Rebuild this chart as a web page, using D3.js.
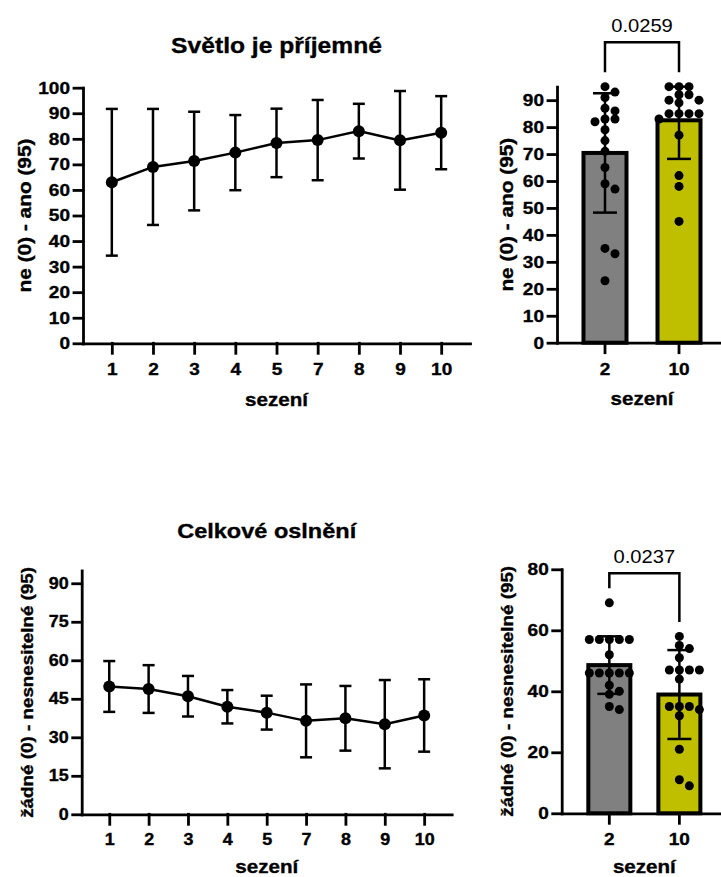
<!DOCTYPE html>
<html>
<head>
<meta charset="utf-8">
<script src="https://cdn.jsdelivr.net/npm/d3@7"></script>
<style>
  body { margin: 0; background: #fff; }
  svg text { font-family: "Liberation Sans", Arial, sans-serif; fill: #000; }
</style>
</head>
<body>
<svg id="chart" width="721" height="877"></svg>
<script>
// session labels for the line charts
const sessions = ["1", "2", "3", "4", "5", "7", "8", "9", "10"];

// "Světlo je příjemné" - mean and SD per session
const pleasantMean = [63, 69, 71.3, 74.6, 78.4, 79.5, 83, 79.4, 82.4];
const pleasantSD = [28.7, 22.7, 19.3, 14.7, 13.4, 15.7, 10.7, 19.3, 14.3];

// "Celkové oslnění" - mean and SD per session
const glareMean = [49.8, 48.8, 46, 41.9, 39.6, 36.4, 37.4, 35.1, 38.5];
const glareSD = [9.9, 9.3, 7.9, 6.5, 6.6, 14.2, 12.6, 17.2, 14.1];

// bar charts: individual answers, session 2 vs session 10
const barGroups = ["2", "10"];
const pleasantS2 = [95, 93, 91, 87, 86, 83, 83, 82, 79, 75, 71, 65, 59, 57, 35, 33, 23];
const pleasantS10 = [95, 95, 95, 92, 92, 90, 90, 89, 85, 85, 85, 85, 83, 77, 62, 58, 45];
const glareS2 = [69, 57, 57, 57, 57, 57, 52, 46, 46, 46, 46, 46, 42, 40, 39, 35, 34];
const glareS10 = [58, 55, 54, 51, 47, 47, 47, 47, 44, 35, 35, 35, 34, 32, 21, 11, 9];
const barColors = ["#808080", "#bfbf00"];

const pValues = ["0.0259", "0.0237"];

const SX = 1.12;   // glyphs in the picture are a bit wider than Arial
const DOT_R = 4.5, DOT_STEP = 10, MIN_GAP = 7.5;

const svg = d3.select('#chart');

function label(g, txt, x, y, size, opts) {
  opts = opts || {};
  const t = g.append('text')
    .attr('transform', 'translate(' + x + ',' + y + ')' + (opts.rotate ? ' rotate(-90)' : '') + ' scale(' + SX + ',1)')
    .attr('text-anchor', 'middle')
    .attr('dy', opts.rotate ? '0.35em' : 0)
    .style('font-size', size + 'px')
    .style('font-weight', opts.normal ? 400 : 700)
    .text(txt);
  if (!opts.normal) t.attr('stroke', '#000').attr('stroke-width', 0.35);
  return t;
}

function styleAxis(g, size, left) {
  g.selectAll('path, line').attr('stroke', '#000').attr('stroke-width', 2.8).attr('stroke-linecap', 'square');
  g.selectAll('text')
    .style('font-size', size + 'px')
    .style('font-weight', 700)
    .attr('stroke', '#000').attr('stroke-width', 0.35)
    .attr('transform', 'scale(' + SX + ',1)');
  if (left) {
    g.selectAll('text').attr('x', function () { return +d3.select(this).attr('x') / SX; });
  }
}

function lineChart(c) {
  const g = svg.append('g');
  const x = d3.scalePoint().domain(sessions).range([c.x0, c.x1]).padding(0.7);
  const y = d3.scaleLinear().domain([0, c.yMax]).range([c.y0, c.y0 - c.yMax * c.k]);

  g.append('g').attr('transform', 'translate(0,' + c.y0 + ')')
    .call(d3.axisBottom(x).tickSize(10).tickPadding(c.xPad).tickSizeOuter(0))
    .call(a => styleAxis(a, c.tickFont, false));
  g.append('g').attr('transform', 'translate(' + c.x0 + ',0)')
    .call(d3.axisLeft(y).tickValues(c.ticks).tickSize(9).tickPadding(4).tickSizeOuter(0))
    .call(a => styleAxis(a, c.tickFont, true));

  const pts = sessions.map((s, i) => ({ s: s, m: c.mean[i], sd: c.sd[i] }));

  // error bars
  const eb = g.append('g').attr('stroke', '#000').attr('stroke-width', 2.5);
  pts.forEach(d => {
    const cx = x(d.s);
    eb.append('line').attr('x1', cx).attr('x2', cx).attr('y1', y(d.m - d.sd)).attr('y2', y(d.m + d.sd));
    [d.m - d.sd, d.m + d.sd].forEach(v => {
      eb.append('line').attr('x1', cx - 6).attr('x2', cx + 6).attr('y1', y(v)).attr('y2', y(v));
    });
  });

  g.append('path').datum(pts)
    .attr('fill', 'none').attr('stroke', '#000').attr('stroke-width', 2.5)
    .attr('d', d3.line().x(d => x(d.s)).y(d => y(d.m)));

  g.selectAll('circle.pt').data(pts).enter().append('circle')
    .attr('class', 'pt')
    .attr('cx', d => x(d.s)).attr('cy', d => y(d.m)).attr('r', 6).attr('fill', '#000');

  const mid = (c.x0 + c.x1) / 2;
  label(g, c.title, mid, c.titleY, c.titleFont);
  label(g, 'sezení', mid, c.xTitleY, 18.4);
  label(g, c.yTitle, c.yTitleX, (y(0) + y(c.yMax)) / 2, c.yTitleFont, { rotate: true });
}

function swarm(vals, y, cx) {
  const placed = [];
  vals.slice().sort((a, b) => b - a).forEach(v => {
    const py = y(v);
    for (let k = 0; k < 30; k++) {
      const off = k === 0 ? 0 : (k % 2 ? 1 : -1) * Math.ceil(k / 2) * DOT_STEP;
      const px = cx + off;
      if (placed.every(p => Math.hypot(p.x - px, p.y - py) >= MIN_GAP)) {
        placed.push({ x: px, y: py });
        break;
      }
    }
  });
  return placed;
}

function barChart(c) {
  const g = svg.append('g');
  const x = d3.scaleBand().domain(barGroups).range([c.x0, 727]).paddingInner(c.pi).paddingOuter(c.po);
  const y = d3.scaleLinear().domain([0, c.yMax]).range([c.y0, c.y0 - c.yMax * c.k]);
  const groups = barGroups.map((gname, i) => ({
    name: gname, vals: c.data[i], m: d3.mean(c.data[i]), sd: d3.deviation(c.data[i]), color: barColors[i]
  }));

  g.selectAll('rect.bar').data(groups).enter().append('rect')
    .attr('class', 'bar')
    .attr('x', d => x(d.name)).attr('width', x.bandwidth())
    .attr('y', d => y(d.m)).attr('height', d => y(0) - y(d.m))
    .attr('fill', d => d.color).attr('stroke', '#000').attr('stroke-width', 4);

  g.append('g').attr('transform', 'translate(0,' + c.y0 + ')')
    .call(d3.axisBottom(x).tickSize(10).tickPadding(10).tickSizeOuter(0))
    .call(a => styleAxis(a, 17, false));
  g.append('g').attr('transform', 'translate(' + c.x0 + ',0)')
    .call(d3.axisLeft(y).tickValues(c.ticks).tickSize(9).tickPadding(4).tickSizeOuter(0))
    .call(a => styleAxis(a, 17, true));

  const eb = g.append('g').attr('stroke', '#000').attr('stroke-width', 2.5);
  groups.forEach(d => {
    const cx = x(d.name) + x.bandwidth() / 2;
    const lo = d.m - d.sd, hi = Math.min(d.m + d.sd, c.yMax);   // bars are clipped at the top of the axis
    eb.append('line').attr('x1', cx).attr('x2', cx).attr('y1', y(lo)).attr('y2', y(hi));
    [lo, hi].forEach(v => {
      eb.append('line').attr('x1', cx - 12).attr('x2', cx + 12).attr('y1', y(v)).attr('y2', y(v));
    });
    g.append('g').selectAll('circle').data(swarm(d.vals, y, cx)).enter().append('circle')
      .attr('cx', p => p.x).attr('cy', p => p.y).attr('r', DOT_R).attr('fill', '#000');
  });

  // significance bracket
  const cxs = groups.map(d => x(d.name) + x.bandwidth() / 2);
  const legEnd = groups.map(d => y(d3.max(d.vals)) - DOT_R - 10);
  g.append('path')
    .attr('d', 'M' + cxs[0] + ',' + legEnd[0] + 'V' + c.bracketY + 'H' + cxs[1] + 'V' + legEnd[1])
    .attr('fill', 'none').attr('stroke', '#000').attr('stroke-width', 2.5);
  const mid = (cxs[0] + cxs[1]) / 2;
  label(g, c.p, mid, c.bracketY - 10.5, 18, { normal: true });

  label(g, 'sezení', mid, c.xTitleY, 18.4);
  label(g, c.yTitle, c.yTitleX, (y(0) + y(c.yMax)) / 2, c.yTitleFont, { rotate: true });
}

lineChart({
  title: 'Světlo je příjemné', titleY: 53, titleFont: 22,
  mean: pleasantMean, sd: pleasantSD,
  x0: 83, x1: 470, y0: 343.3, k: 2.556, yMax: 100, ticks: d3.range(0, 101, 10),
  tickFont: 17, xPad: 10, xTitleY: 406,
  yTitle: 'ne (0) - ano (95)', yTitleX: 24, yTitleFont: 18.6
});

barChart({
  data: [pleasantS2, pleasantS10], p: pValues[0],
  x0: 557, pi: 0.419, po: 0.358, y0: 342.7, k: 2.695, yMax: 95, ticks: d3.range(0, 91, 10),
  bracketY: 42.3, xTitleY: 405,
  yTitle: 'ne (0) - ano (95)', yTitleX: 506, yTitleFont: 18.6
});

lineChart({
  title: 'Celkové oslnění', titleY: 538.3, titleFont: 21,
  mean: glareMean, sd: glareSD,
  x0: 81.7, x1: 451.7, y0: 814.3, k: 2.567, yMax: 95, ticks: d3.range(0, 91, 15),
  tickFont: 16, xPad: 9, xTitleY: 873,
  yTitle: 'žádné (0) - nesnesitelné (95)', yTitleX: 27, yTitleFont: 16.8
});

barChart({
  data: [glareS2, glareS10], p: pValues[1],
  x0: 561.7, pi: 0.4, po: 0.38, y0: 813.3, k: 3.05, yMax: 80, ticks: d3.range(0, 81, 20),
  bracketY: 573.3, xTitleY: 873,
  yTitle: 'žádné (0) - nesnesitelné (95)', yTitleX: 507, yTitleFont: 16.8
});
</script>
</body>
</html>
